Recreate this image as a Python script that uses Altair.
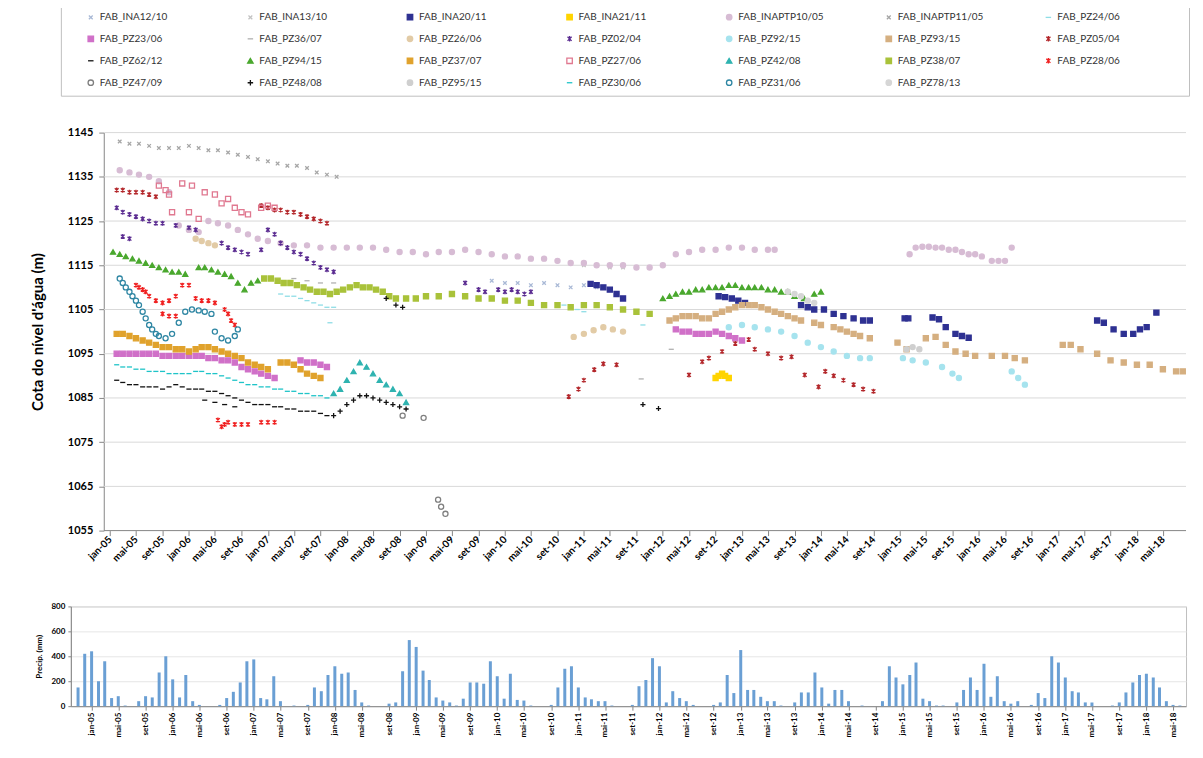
import altair as alt
import pandas as pd

# ---------------- groundwater levels: (months since jan-2005, level m) -------------
INA12_10 = [(58, 1111.5), (60, 1111), (62, 1111), (64, 1110.5), (66, 1111), (68, 1110.5), (70, 1110), (72, 1110.5), (74, 1110)]
INA13_10 = [(70, 1115.5), (72, 1115), (74, 1115), (76, 1114.5), (78, 1114.5)]
INA20_11 = [(73, 1110.8), (74, 1110.5), (75, 1110), (76, 1109.5), (77, 1108.5), (78, 1107.5), (92.5, 1108), (93.5, 1107.8),
            (94.5, 1107.5), (95.5, 1107), (96.5, 1106.5), (105, 1106), (106, 1105.5), (107, 1105), (108.5, 1105), (110, 1104),
            (111.5, 1103.5), (113, 1103), (114.5, 1102.5), (115.5, 1102.5), (120.8, 1103), (121.3, 1103), (125, 1103.2),
            (126, 1102.8), (127, 1101), (128.5, 1099.5), (129.5, 1099), (130.5, 1098.6), (150, 1102.5), (151, 1102),
            (152.5, 1100.5), (154, 1099.5), (155.5, 1099.5), (156.5, 1100.5), (157.5, 1101), (159, 1104.3)]
INA21_11 = [(92, 1089.5), (92.5, 1090), (93, 1090.5), (93.5, 1090), (94, 1089.5)]
INAPTP10_05 = [(1.5, 1136.5), (3, 1136), (4.5, 1135.5), (6, 1135), (7.5, 1134), (9, 1131.5), (10.5, 1124), (12, 1123),
               (13.5, 1122.5), (15, 1125), (16.5, 1124.5), (18, 1124), (19.5, 1123), (21, 1122), (22.5, 1121), (24, 1120.5),
               (26, 1120), (28, 1119.5), (30, 1119.5), (32, 1119), (34, 1119), (36, 1119), (38, 1119), (40, 1119),
               (42, 1118.5), (44, 1118), (46, 1118), (48, 1117.5), (50, 1118), (52, 1118), (54, 1118.5), (56, 1118),
               (58, 1117.5), (60, 1117), (62, 1117), (64, 1116.5), (66, 1116.5), (68, 1116), (70, 1115.5), (72, 1115.5),
               (74, 1115), (76, 1115), (78, 1115), (80, 1114.5), (82, 1114.5), (84, 1115), (86, 1117.5), (88, 1118),
               (90, 1118.5), (92, 1118.5), (94, 1119), (96, 1119), (98, 1118.5), (100, 1118.5), (101, 1118.5),
               (121.5, 1117.5), (122.5, 1119), (123.5, 1119.2), (124.5, 1119.2), (125.5, 1119), (126.5, 1119),
               (127.5, 1118.5), (128.5, 1118.5), (129.5, 1118), (130.5, 1117.5), (131.5, 1117.5), (132.5, 1117),
               (134, 1116), (135, 1116), (136, 1116), (137, 1119)]
INAPTP11_05 = [(1.5, 1143), (3, 1142.5), (4.5, 1142.5), (6, 1142), (7.5, 1141.5), (9, 1141.5), (10.5, 1141.5), (12, 1142),
               (13.5, 1141.5), (15, 1141), (16.5, 1141), (18, 1140.5), (19.5, 1140), (21, 1139.5), (22.5, 1139),
               (24, 1138.5), (25.5, 1138), (27, 1137.5), (28.5, 1137.5), (30, 1137), (31.5, 1136), (33, 1135.5), (34.5, 1135)]
PZ24_06 = [(26, 1108.5), (27, 1108), (28, 1108), (29, 1107.5), (30, 1107), (31, 1106.5), (32, 1106), (33, 1105.5),
           (34, 1105.5), (33.5, 1102), (68, 1106.5), (69, 1106), (70, 1105.5), (71, 1105), (72, 1104.5), (81, 1101.5)]
PZ23_06 = [(1, 1095), (2, 1095), (3, 1095), (4, 1095), (5, 1095), (6, 1095), (7, 1095), (8, 1094.5), (9, 1094.5),
           (10, 1094.5), (11, 1094.5), (12, 1094.5), (13, 1094.5), (14, 1094.5), (15, 1094), (16, 1094), (17, 1093.5),
           (18, 1093.5), (19, 1093), (20, 1092), (21, 1091.5), (22, 1091), (23, 1090.5), (24, 1090), (25, 1089.5),
           (29, 1093.5), (30, 1093), (31, 1093), (32, 1092.5), (33, 1092), (86, 1100.5), (87, 1100), (88, 1100),
           (89, 1099.5), (90, 1099.5), (91, 1099.5), (92, 1100), (93, 1099.5), (94, 1099), (95, 1098.5), (96, 1098)]
PZ36_07 = [(28, 1112), (30, 1111.5), (32, 1111), (34, 1111), (80.8, 1089.3), (85.3, 1096)]
PZ26_06 = [(13, 1121), (14, 1120.5), (15, 1120), (16, 1119.5), (70.5, 1098.8), (72, 1099.5), (73.5, 1100.3), (75, 1101),
           (76.5, 1100.5), (78, 1100)]
PZ02_04 = [(1, 1128), (2, 1127), (3, 1126.5), (4, 1126), (5, 1125.5), (6, 1125), (7, 1124.5), (8, 1124.5), (10, 1124),
           (12, 1123.5), (13, 1123), (2, 1121.5), (3, 1121), (17, 1120), (18, 1119), (19, 1118.5), (20, 1118),
           (21, 1117.5), (23, 1118.5), (24, 1123), (25, 1122), (26, 1120), (27, 1119), (28, 1118), (29, 1117.5),
           (30, 1116.5), (31, 1115.5), (32, 1114.5), (33, 1114), (34, 1113.5), (54, 1111), (56, 1109.5), (57, 1109),
           (59, 1109.5), (60, 1109), (61, 1109.5), (62, 1109), (63, 1108.5), (64, 1109)]
PZ92_15 = [(94, 1101), (96, 1101.5), (98, 1101), (100, 1100.5), (102, 1100), (104, 1099), (106, 1097.5), (108, 1096.5),
           (110, 1095.5), (112, 1094.5), (114, 1094), (115.5, 1094), (120.5, 1094), (122, 1093.5), (124, 1093),
           (126.5, 1092), (128, 1090.5), (129, 1089.5), (137, 1091), (138, 1089.5), (139, 1088)]
PZ93_15 = [(85, 1102.5), (86, 1103), (87, 1103.5), (88, 1103.5), (89, 1103.5), (90, 1103), (91, 1103), (92, 1104),
           (93, 1104.5), (94, 1105), (95, 1105.5), (96, 1106), (97, 1106), (98, 1106), (99, 1105.5), (100, 1105),
           (101, 1104.5), (102, 1104), (103, 1103.5), (104, 1103), (105, 1102.5), (107, 1102), (108, 1101.5),
           (110, 1101), (111, 1100.5), (112, 1100), (113, 1099.5), (114, 1099), (115.5, 1098.5), (119.7, 1097.5),
           (121, 1096), (124, 1098.5), (125.5, 1098.8), (127, 1097), (128.5, 1095.5), (130, 1095), (131.5, 1094.5),
           (134, 1094.5), (136, 1094.5), (137.5, 1094), (139, 1093.5), (144.8, 1097), (146, 1097), (147.5, 1096),
           (150, 1095), (152, 1093.5), (154, 1093), (156, 1092.5), (158, 1092.5), (160, 1091.5), (162, 1091), (163, 1091)]
PZ05_04 = [(1, 1132), (2, 1132), (3, 1131.5), (4, 1131.5), (5, 1131.5), (6, 1131), (7, 1130.5), (23, 1128.5), (24, 1128),
           (25, 1127.5), (26, 1127.5), (27, 1127), (28, 1127), (29, 1126.5), (30, 1126), (31, 1125.5), (32, 1125),
           (33, 1124.5), (69.8, 1085.3), (71.2, 1087), (72, 1089), (73.6, 1091.4), (75, 1092.7), (77, 1092.5),
           (88, 1090.2), (90, 1093.2), (91, 1094), (93, 1095.5), (95, 1097.3), (97, 1098.2), (98, 1096), (100, 1095),
           (102, 1094), (103.6, 1094.3), (105.6, 1090.2), (107.7, 1087.5), (108.7, 1091), (110, 1090), (111.5, 1089),
           (113, 1088), (114.5, 1087), (116, 1086.5)]
PZ62_12 = [(1, 1089), (2, 1088.5), (3, 1088), (4, 1088), (5, 1087.5), (6, 1087.5), (7, 1087.5), (8, 1087), (9, 1087.5),
           (10, 1088), (11, 1087.5), (12, 1087), (13, 1087), (14, 1087), (15, 1086.5), (16, 1086.5), (17, 1086),
           (18, 1085.5), (19, 1085), (20, 1084.5), (21, 1084), (22, 1083.5), (23, 1083.5), (24, 1083.5), (25, 1083),
           (26, 1083), (27, 1082.5), (28, 1082.5), (29, 1082), (30, 1082), (31, 1082), (32, 1081.5), (33, 1081),
           (14.5, 1084.5), (16, 1084), (17.5, 1083.5), (19, 1083)]
PZ94_15 = [(0.5, 1118), (1.5, 1117.5), (2.5, 1117), (3.5, 1116.5), (4.5, 1116), (5.5, 1115.5), (6.5, 1115), (7.5, 1114.5),
           (8.5, 1114), (9.5, 1113.5), (10.5, 1113.5), (11.5, 1113), (13.5, 1114.5), (14.5, 1114.5), (15.5, 1114),
           (16.5, 1113.5), (17.5, 1113), (18.5, 1112.5), (19.5, 1111), (20.5, 1109.5), (21.5, 1111), (22.5, 1111.5),
           (84, 1107.5), (85, 1108), (86, 1108.5), (87, 1109), (88, 1109), (89, 1109.5), (90, 1109.5), (91, 1110),
           (92, 1110), (93, 1110), (94, 1110.5), (95, 1110.5), (96, 1110), (97, 1110), (98, 1110), (99, 1110),
           (100, 1109.5), (101, 1109.5), (102, 1109), (103, 1109), (104, 1108), (105.5, 1107.5), (107, 1108.5), (108, 1109)]
PZ37_07 = [(1, 1099.5), (2, 1099.5), (3, 1099), (4, 1098.5), (5, 1098), (6, 1097.5), (7, 1097), (8, 1096.5), (9, 1096.5),
           (10, 1096), (11, 1096), (12, 1095.5), (13, 1096), (14, 1096.5), (15, 1096.5), (16, 1096), (17, 1095.5),
           (18, 1095), (19, 1094.5), (20, 1094), (21, 1093), (22, 1092.5), (23, 1092), (24, 1091.5), (26, 1093),
           (27, 1093), (28, 1092.5), (29, 1091.5), (30, 1090.5), (31, 1090), (32, 1089.5)]
PZ27_06 = [(7.5, 1133), (8.5, 1132), (9, 1131), (9.5, 1127), (11, 1133.5), (12, 1127), (12.5, 1133), (13.5, 1125.5),
           (14.5, 1131.5), (16, 1131), (17, 1129), (18, 1130), (19, 1128), (20, 1127), (21, 1126.5), (23, 1128),
           (24, 1128.5), (25, 1128)]
PZ42_08 = [(34, 1086), (35, 1087), (36, 1089), (37, 1091), (38, 1093), (39, 1092), (40, 1090.5), (41, 1089), (42, 1088),
           (43, 1087), (44, 1086), (45, 1084)]
PZ38_07 = [(23.5, 1112), (24.5, 1112), (25.5, 1111.5), (26.5, 1111), (27.5, 1111), (28.5, 1110.5), (29.5, 1110),
           (30.5, 1109.5), (31.5, 1109), (32.5, 1109), (33.5, 1108.5), (34.5, 1109), (35.5, 1109.5), (36.5, 1110),
           (37.5, 1110.5), (38.5, 1110), (39.5, 1110), (40.5, 1109.5), (41.5, 1109), (42.5, 1108), (43.5, 1107.5),
           (45, 1107.5), (46.5, 1107.5), (48, 1108), (50, 1108), (52, 1108.5), (54, 1108), (56, 1107.5), (58, 1107.5),
           (60, 1107), (62, 1107), (64, 1106.5), (66, 1106), (68, 1106), (70, 1105.5), (72, 1106), (74, 1106),
           (76, 1105.5), (78, 1105), (80, 1104.5), (82, 1104)]
PZ28_06 = [(4, 1110.5), (4.5, 1110), (5, 1109.5), (5.5, 1109), (6, 1108), (7, 1107), (8, 1106.5), (8, 1104), (9, 1103.5),
           (9, 1107), (10, 1108), (10, 1103.5), (11, 1110.5), (12, 1110.5), (13, 1107.5), (14, 1107), (15, 1107),
           (16, 1106.5), (17.5, 1105), (18, 1104), (18.5, 1102.5), (19, 1101.5), (16.5, 1080), (17, 1078.5),
           (17.5, 1079), (18, 1079.5), (19, 1079), (20, 1079), (21, 1079), (23, 1079.5), (24, 1079.5), (25, 1079.5)]
PZ47_09 = [(44.5, 1081), (47.7, 1080.5), (49.9, 1062), (50.4, 1060.4), (51, 1058.8)]
PZ48_08 = [(34, 1081), (35, 1082), (36, 1083.5), (37, 1084.5), (38, 1085.5), (39, 1085.5), (40, 1085), (41, 1084.5),
           (42, 1084), (43, 1083.5), (44, 1083), (45, 1082.5), (42, 1107.5), (43.5, 1106), (44.5, 1105.5),
           (81, 1083.5), (83.4, 1082.6)]
PZ95_15 = [(121, 1096), (122, 1096.5), (123, 1096)]
PZ30_06 = [(1, 1092.5), (2, 1092), (3, 1092), (4, 1091.5), (5, 1091.5), (6, 1091), (7, 1091), (8, 1091), (9, 1090.5),
           (10, 1090.5), (11, 1090.5), (12, 1090.5), (13, 1091), (14, 1091), (15, 1090.5), (16, 1090.5), (17, 1090),
           (18, 1089.5), (19, 1089), (20, 1088.5), (21, 1088), (22, 1088), (23, 1087.5), (24, 1087.5), (25, 1087),
           (26, 1087), (27, 1086.5), (28, 1086.5), (29, 1086), (30, 1086), (31, 1085.5), (32, 1085.5), (33, 1085)]
PZ31_06 = [(1.5, 1112), (2, 1111), (2.5, 1110), (3, 1109), (3.5, 1108), (4, 1107), (4.5, 1106), (5, 1104.5), (5.5, 1103),
           (6, 1101.5), (6.5, 1100.5), (7, 1099.5), (7.5, 1099), (8.5, 1098.5), (9.5, 1099.5), (10.5, 1102),
           (11.5, 1104.5), (12.5, 1105), (13.5, 1104.8), (14.5, 1104.5), (15.5, 1104), (16, 1100), (17, 1098.5),
           (18, 1098), (19, 1099), (19.5, 1100.5)]
PZ78_13 = [(103, 1109), (104, 1108.5), (105, 1108), (106, 1107), (107, 1106.5)]

# ---------------- monthly precipitation (mm), nov-2004 .. jun-2018 ----------------
PRECIP_START = (2004, 11)
precip_mm = [150, 420,
             440, 200, 360, 65, 80, 5, 0, 40, 80, 70, 270, 400,
             215, 70, 250, 40, 10, 0, 0, 10, 65, 115, 190, 360,
             375, 65, 55, 240, 40, 0, 5, 0, 10, 150, 120, 250,
             320, 260, 270, 130, 30, 5, 0, 0, 20, 30, 280, 530,
             475, 285, 210, 70, 45, 30, 5, 60, 190, 190, 180, 360,
             240, 60, 260, 50, 45, 5, 0, 0, 10, 150, 300, 320,
             150, 70, 55, 40, 40, 5, 0, 0, 10, 160, 210, 385,
             320, 30, 120, 65, 40, 10, 0, 0, 10, 30, 250, 105,
             450, 130, 130, 75, 40, 40, 5, 0, 30, 110, 110, 270,
             150, 20, 130, 130, 40, 0, 5, 0, 0, 40, 320, 230,
             175, 250, 350, 60, 40, 5, 5, 0, 30, 130, 230, 130,
             340, 75, 240, 40, 20, 40, 0, 10, 105, 65, 400, 350,
             230, 120, 110, 30, 30, 0, 0, 5, 30, 110, 190, 250,
             260, 230, 150, 40, 10, 5]

grid_levels = [1055, 1065, 1075, 1085, 1095, 1105, 1115, 1125, 1135, 1145]

# ---------------- styles ----------------
X_SHAPE = "M-0.7,-0.7L0.7,0.7M-0.7,0.7L0.7,-0.7"
STAR = "M-0.75,-0.75L0.75,0.75M-0.75,0.75L0.75,-0.75M0,-1L0,1"
PLUS = "M-1,0L1,0M0,-1L0,1"
DASH = "M-1,0L1,0"
NONE = "transparent"

series = [
    ("FAB_INA12/10", INA12_10, NONE, "#A9B9D6", X_SHAPE),
    ("FAB_INA13/10", INA13_10, NONE, "#C3C3C3", X_SHAPE),
    ("FAB_INA20/11", INA20_11, "#2E3192", "#2E3192", "square"),
    ("FAB_INA21/11", INA21_11, "#FFD400", "#FFD400", "square"),
    ("FAB_INAPTP10/05", INAPTP10_05, "#D7BCD4", "#D7BCD4", "circle"),
    ("FAB_INAPTP11/05", INAPTP11_05, NONE, "#A6A6A6", X_SHAPE),
    ("FAB_PZ24/06", PZ24_06, NONE, "#8FDDE6", DASH),
    ("FAB_PZ23/06", PZ23_06, "#D070C8", "#D070C8", "square"),
    ("FAB_PZ36/07", PZ36_07, NONE, "#B0B0B0", DASH),
    ("FAB_PZ26/06", PZ26_06, "#E2CBA6", "#E2CBA6", "circle"),
    ("FAB_PZ02/04", PZ02_04, NONE, "#5B2C91", STAR),
    ("FAB_PZ92/15", PZ92_15, "#A6E3EE", "#A6E3EE", "circle"),
    ("FAB_PZ93/15", PZ93_15, "#D5AF80", "#D5AF80", "square"),
    ("FAB_PZ05/04", PZ05_04, NONE, "#B3262A", STAR),
    ("FAB_PZ62/12", PZ62_12, NONE, "#111111", DASH),
    ("FAB_PZ94/15", PZ94_15, "#4AA82E", "#4AA82E", "triangle-up"),
    ("FAB_PZ37/07", PZ37_07, "#E0A22C", "#E0A22C", "square"),
    ("FAB_PZ27/06", PZ27_06, NONE, "#E07890", "square"),
    ("FAB_PZ42/08", PZ42_08, "#2FB3B0", "#2FB3B0", "triangle-up"),
    ("FAB_PZ38/07", PZ38_07, "#A9C23A", "#A9C23A", "square"),
    ("FAB_PZ28/06", PZ28_06, NONE, "#F02020", STAR),
    ("FAB_PZ47/09", PZ47_09, NONE, "#7F7F7F", "circle"),
    ("FAB_PZ48/08", PZ48_08, NONE, "#111111", PLUS),
    ("FAB_PZ95/15", PZ95_15, "#CFCFCF", "#CFCFCF", "circle"),
    ("FAB_PZ30/06", PZ30_06, NONE, "#1FC4C8", DASH),
    ("FAB_PZ31/06", PZ31_06, NONE, "#2E86A3", "circle"),
    ("FAB_PZ78/13", PZ78_13, "#D6D6D6", "#D6D6D6", "circle"),
]


def month_to_iso(m):
    whole = int(m)
    frac = m - whole
    y = 2005 + whole // 12
    mo = whole % 12 + 1
    day = 1 + int(round(frac * 28))
    return f"{y:04d}-{mo:02d}-{day:02d}T00:00:00"


rows = []
for name, pts, _f, _s, _sh in series:
    for m, v in pts:
        rows.append({"series": name, "date": month_to_iso(m), "level": v})
df = pd.DataFrame(rows)

names = [s[0] for s in series]
fills = [s[2] for s in series]
strokes = [s[3] for s in series]
shapes = [s[4] for s in series]

prow = []
y0, mo0 = PRECIP_START
for i, v in enumerate(precip_mm):
    k = (mo0 - 1) + i
    prow.append({"date": f"{y0 + k // 12:04d}-{k % 12 + 1:02d}-15T00:00:00", "mm": v})
pdf = pd.DataFrame(prow)

gdf = pd.DataFrame({"level": grid_levels,
                    "date": ["2004-12-05T00:00:00"] * len(grid_levels),
                    "end": ["2018-08-16T00:00:00"] * len(grid_levels),
                    "kind": ["axis"] + ["grid"] * (len(grid_levels) - 1)})

MONTH_EXPR = ("['jan','fev','mar','abr','mai','jun','jul','ago','set','out','nov','dez'][month(datum.value)]"
              " + '-' + timeFormat(datum.value, '%y')")
FONT = "Lato"
AXC = "#868686"

top_ticks = []
bot_ticks = []
for yr in range(2005, 2019):
    for mo in (1, 5, 9):
        if yr == 2018 and mo == 9:
            continue
        top_ticks.append(alt.DateTime(year=yr, month=mo, date=1))
        bot_ticks.append(alt.DateTime(year=yr, month=mo, date=15))

TOP_X = alt.Scale(domain=[alt.DateTime(year=2004, month=7, date=4), alt.DateTime(year=2018, month=8, date=16)])
TOP_Y = alt.Scale(domain=[1055, 1145], nice=False, zero=False)

X_AXIS_TOP = alt.Axis(values=top_ticks, labelExpr=MONTH_EXPR, labelAngle=-45, labelAlign="right",
                      labelBaseline="middle", labelFont=FONT, labelFontWeight="bold", labelFontSize=10,
                      labelColor="#000", tickSize=5, tickColor=AXC, domain=False, grid=False,
                      labelPadding=2, labelOverlap=False, title=None)
Y_AXIS_TOP = alt.Axis(values=grid_levels, format="d", title="Cota do nível d'água (m)", titleFont=FONT,
                      titleFontSize=15, titleFontWeight="bold", titleColor="#000", titlePadding=22,
                      labelFont=FONT, labelFontWeight="bold", labelFontSize=11, labelColor="#000",
                      labelPadding=6, tickSize=5, tickColor=AXC, domainColor=AXC, grid=False, offset=-33)

leg = alt.Legend(title="\u2003", titleOrient="right", titlePadding=62, titleFontSize=10,
                 orient="none", legendX=-10, legendY=-128, direction="horizontal", columns=7,
                 symbolLimit=0, labelFont=FONT, labelFontSize=10, labelColor="#333333", symbolSize=30,
                 symbolStrokeWidth=1.3, symbolOffset=18, columnPadding=42, rowPadding=10, gridAlign="all",
                 padding=7, strokeColor="#BFBFBF", labelLimit=300)

grid = alt.Chart(gdf).mark_rule(strokeWidth=1).encode(
    x=alt.X("date:T", scale=TOP_X, axis=X_AXIS_TOP),
    x2="end:T",
    y=alt.Y("level:Q", scale=TOP_Y, axis=Y_AXIS_TOP),
    color=alt.Color("kind:N", scale=alt.Scale(domain=["axis", "grid"], range=[AXC, "#D9D9D9"]), legend=None),
)

points = alt.Chart(df).mark_point(filled=True, size=26, strokeWidth=1.3, opacity=1).encode(
    x=alt.X("date:T", scale=TOP_X, axis=X_AXIS_TOP),
    y=alt.Y("level:Q", scale=TOP_Y, axis=Y_AXIS_TOP),
    fill=alt.Fill("series:N", scale=alt.Scale(domain=names, range=fills), legend=leg, sort=names),
    stroke=alt.Stroke("series:N", scale=alt.Scale(domain=names, range=strokes), legend=leg, sort=names),
    shape=alt.Shape("series:N", scale=alt.Scale(domain=names, range=shapes), legend=leg, sort=names),
)

top = alt.layer(grid, points).resolve_scale(color="independent").properties(
    width=1118, height=399, view=alt.ViewBackground(strokeOpacity=0))

bottom = alt.Chart(pdf).mark_bar(size=3, color="#6A9FD4").encode(
    x=alt.X("date:T",
            scale=alt.Scale(domain=[alt.DateTime(year=2004, month=11, date=5),
                                    alt.DateTime(year=2018, month=6, date=20)]),
            axis=alt.Axis(values=bot_ticks, labelExpr=MONTH_EXPR, labelAngle=-90, labelAlign="right",
                          labelBaseline="middle", labelFont=FONT, labelFontWeight="bold", labelFontSize=8,
                          labelColor="#000", tickSize=4, tickColor=AXC, domainColor=AXC, grid=False,
                          labelPadding=2, labelOverlap=False, title=None)),
    y=alt.Y("mm:Q", scale=alt.Scale(domain=[0, 800], nice=False),
            axis=alt.Axis(values=[0, 200, 400, 600, 800], title="Precip. (mm)", titleFont=FONT, titleFontSize=8,
                          titleFontWeight="bold", titleColor="#000", titlePadding=7, labelFont=FONT,
                          labelFontWeight="bold", labelFontSize=8, labelColor="#000", labelPadding=3,
                          tickSize=3, tickColor=AXC, domainColor=AXC, grid=True, gridColor="#E6E6E6")),
).properties(width=1118, height=100, view=alt.ViewBackground(stroke="#BFBFBF"))

chart = alt.vconcat(top, bottom, spacing=38).properties(
    padding={"left": 22, "top": -5, "right": 5, "bottom": 0}
).configure(background="white")

chart.save("out.html", embed_options={"renderer": "svg", "actions": False})
